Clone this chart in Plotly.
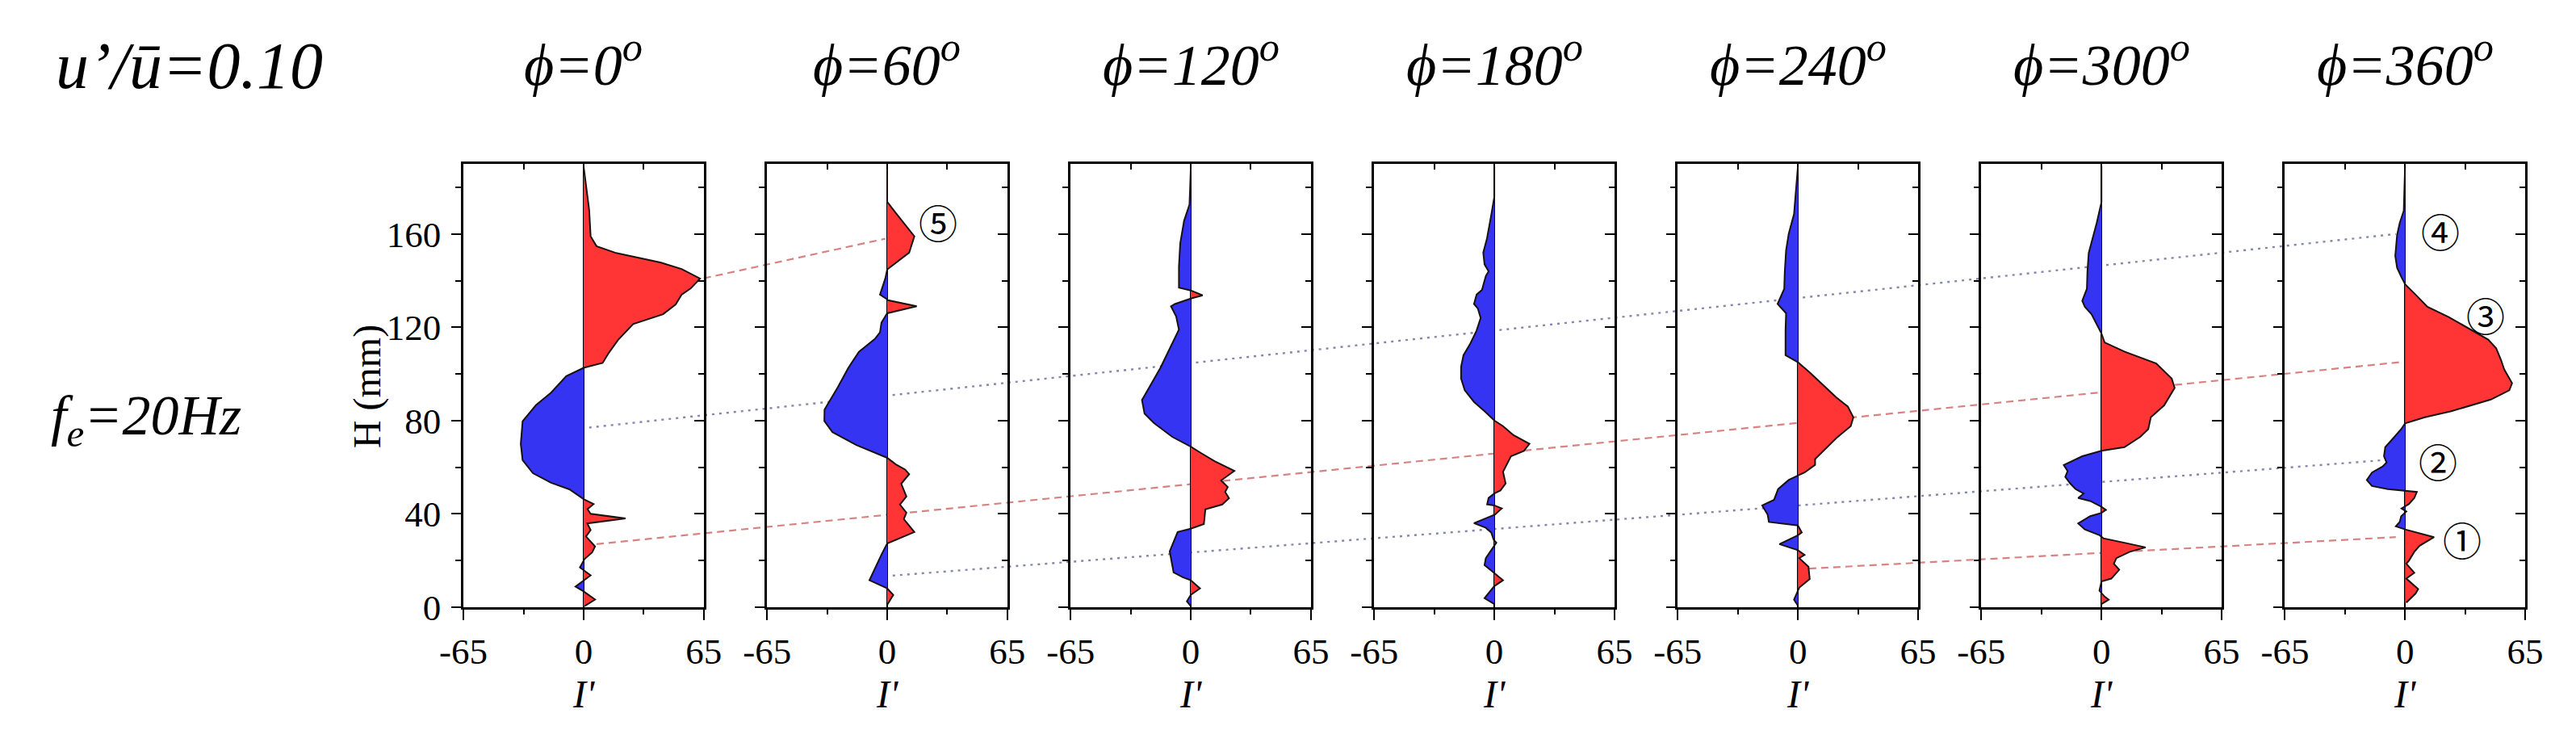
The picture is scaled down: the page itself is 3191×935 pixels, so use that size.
import plotly.graph_objects as go

# ---------------- data ----------------
PHI_LABELS = ["0", "60", "120", "180", "240", "300", "360"]

H_PHI0 = [189, 181.5, 170.4, 159, 154.8, 152, 147.8, 145, 140.9, 136.7, 134, 129.8, 125.6, 121.4,
          114.5, 109, 104.7, 102.6, 99, 92, 86.6, 79.7, 70, 63, 57.4, 53.3, 50.5, 46.3, 44.2, 42,
          40, 38, 35.9, 33, 30.3, 26, 23.4, 20.6, 17, 13.6, 8.8, 6.7, 3.2, 0.4]
I_PHI0 = [0, 1.3, 3, 3.8, 7, 17, 41.5, 53, 63, 58, 53, 49.8, 43, 26.8,
          18.6, 13.6, 10.3, 0, -9.4, -17.6, -25.8, -33, -34, -33, -27.4, -17.6, -7.7, 0, 5.4, 2.1,
          3.8, 22.7, 2, 3.8, 1.3, 6.2, 4.6, 0.5, -2, 3.8, -4.4, 0, 6.2, 0.5]

H_PHI60 = [188, 173.8, 169, 159, 152, 144.8, 141, 134, 132, 131.6, 129, 126, 122, 117.8, 115, 109.5,
           102.6, 94.3, 84.7, 79.8, 75, 69.5, 64, 61.2, 59, 57, 52.9, 47.4, 44, 40.5, 37.7, 32.2,
           27.3, 22.5, 11.5, 8, 5.2, 1]
I_PHI60 = [0, 0, 4.7, 14.7, 11.9, 0, -1, -3.9, 0, 0.4, 16, 0, -3.1, -3.9, -6.7, -15.3,
           -21, -26.7, -33.9, -34, -29.6, -16.7, 0, 4.7, 9.7, 11.9, 7.6, 10.4, 6.9, 10.4, 9, 14.7,
           0, -3.1, -9.6, 0, 3.3, 0]

H_PHI120 = [188, 172.6, 165.7, 156, 146, 137, 135.8, 133.7, 132.3, 130, 129, 124.7, 119, 111, 102.6,
            95.7, 88.8, 83, 79, 73, 68.8, 66, 62.6, 58.4, 54.3, 51.5, 49.4, 46.7, 44, 41.9, 35.6,
            33.6, 32.2, 23.9, 14.9, 12.8, 11.5, 8, 5.2, 2.5, 0.4]
I_PHI120 = [0, -0.7, -3.6, -5.7, -6.4, -6.4, 0, 6.4, 0, -8.6, -10.7, -7.9, -6.4, -11.4, -16.4,
            -21.4, -26.4, -25, -20, -10, 0, 5.7, 12.9, 23.6, 16.4, 20, 18.6, 20.7, 17, 7.9, 7.1,
            0, -7.1, -11.4, -9.3, -4.3, 0, 5, 0, -2.1, 0]

H_PHI180 = [189, 176, 168, 158, 152, 147, 144, 142, 136, 134, 130, 128, 124, 118.6, 113, 108, 103,
            98, 93, 88, 84, 80, 77.6, 73.7, 70, 67, 64.7, 61.5, 58, 53, 50, 48.7, 46.8, 44, 43.6,
            42.3, 39.7, 36, 34, 32, 28.8, 27.6, 25, 21, 18, 14.7, 11.5, 9, 3.8, 1.3]
I_PHI180 = [0, 0, -1.7, -4, -6, -5.3, -3.1, -4.6, -6.7, -9.6, -11, -8.9, -7.4, -9.6, -13, -16.7, -18,
            -18, -16, -11, -5.3, 0, 4.7, 10.4, 19, 16, 9, 6.9, 4.7, 6.1, 3.3, 0, -3.1, -3.9, 0,
            4, 0.4, -11, -4.6, -1.7, -0.3, 1.1, -1, -4.6, -5.3, 0, 4.7, 0, -5.3, 0]

H_PHI240 = [189, 177.6, 168.6, 160, 153, 144, 136.5, 130, 126, 118.6, 108, 105, 100.6, 90, 86, 81.4,
            77.6, 72.4, 67, 63.5, 61, 57.7, 56.4, 54.5, 50.6, 46, 43.6, 39.7, 36.5, 35, 32, 30.8,
            27, 25, 24.4, 22.4, 21, 17.3, 12, 8.3, 3.2, 0.6]
I_PHI240 = [0, -1, -2.1, -5, -6.4, -7.1, -7.4, -11, -6.4, -6.7, -6.7, 0, 6.4, 20.7, 27, 30,
            28.6, 20.7, 13.6, 9.3, 9.3, 3.6, 0, -5, -10.7, -12.9, -19.3, -16.4, -15.7, 0, 2.1, 0,
            -10, -2.1, 0, 3.6, 0.7, 5.7, 6.4, 0.7, -2.1, 0]

H_PHI300 = [189, 173.7, 164.7, 158, 151.9, 144, 136.5, 131.4, 128.8, 125.6, 121, 117.3, 113.5, 109.6,
            104.5, 98, 94, 86.5, 81.4, 76.3, 73, 68.6, 67, 64.7, 60.9, 58.3, 55.8, 53, 50.6, 48.7,
            46.8, 45.5, 43, 41.7, 40.4, 39, 35.9, 33.3, 30.8, 29.5, 27.6, 25.6, 23.7, 21, 18.6, 16,
            12.2, 11, 7, 4.5, 3.2, 1.3]
I_PHI300 = [0, 0, -2.6, -4.7, -6.9, -7.6, -7.9, -10.4, -9, -5.4, -2.6, 0, 1.7, 12.4,
            29.6, 38, 39.6, 33.9, 26.7, 25.3, 21, 12.4, 0, -10.4, -20.4, -18.3, -19.6, -16.9, -14, -9.7,
            -12.6, -6.1, 0, 2.4, 0, -6.1, -12.6, -9, -1, 1, 12.4, 23.9, 15.3, 8.1, 6.7, 9.6,
            5.3, 0, -1.1, 1.7, 3.9, 0]

H_PHI360 = [189, 170, 164.7, 159.6, 150.6, 145.5, 141.7, 138.5, 134, 128.8, 124.4, 119.2, 114.7, 111,
            105.8, 102, 96, 93, 89, 84, 81.4, 78.8, 76.3, 72.4, 68.6, 64.7, 62, 60.3, 57.7, 54.5,
            51.9, 50.6, 50, 49.4, 46.8, 44.2, 42.3, 41, 39, 36.5, 34.6, 33.3, 30, 26.3, 23.7, 19.9,
            18.6, 14.7, 12.2, 7.7, 5.8, 1.9]
I_PHI360 = [0, -0.7, -2.9, -4.3, -5.3, -4.3, -2.1, 0, 5.7, 12.1, 23.6, 35, 45, 49.3,
            52, 53.6, 57.9, 56.4, 46.4, 25, 10.7, 0, -2.1, -6.4, -10.7, -11.4, -10, -12.1, -17.9, -20.7,
            -17.9, -9.3, 0, 6.4, 5, 2.1, -1.9, 0.7, -2.1, -2.9, -5, 0, 15.7, 7.9, 5, 2.1,
            0.7, 5, 0.7, 7.1, 5.7, 0.7]

PROFILES_H = [H_PHI0, H_PHI60, H_PHI120, H_PHI180, H_PHI240, H_PHI300, H_PHI360]
PROFILES_I = [I_PHI0, I_PHI60, I_PHI120, I_PHI180, I_PHI240, I_PHI300, I_PHI360]

X_TICKS = [-65, 0, 65]
X_TICK_TEXT = ["-65", "0", "65"]
X_MINOR = [-32.5, 32.5]
Y_TICKS = [0, 40, 80, 120, 160]
Y_TICK_TEXT = ["0", "40", "80", "120", "160"]
Y_MINOR = [20, 60, 100, 140, 180]
X_RANGE = [-65, 65]
Y_RANGE = [0, 190]

# connecting lines between panels: (panel, I', H) -> (panel, I', H)
LINK_START_PANEL = [0, 0, 0, 1, 4]
LINK_START_I = [65, 3, 7, 3, 6]
LINK_START_H = [141, 77, 27, 13.5, 16.5]
LINK_END_PANEL = [1, 6, 6, 6, 6]
LINK_END_I = [-1, -5, -3, -12, -5]
LINK_END_H = [158, 160, 105, 63, 30]
LINK_KIND = ["red", "blue", "red", "blue", "red"]

MARK_TEXT = ["⑤", "④", "③", "②", "①"]
MARK_PANEL = [1, 6, 6, 6, 6]
MARK_I = [27.6, 19.3, 43.6, 17.9, 30.7]
MARK_H = [165.5, 161.5, 125.6, 62.8, 29.5]

# ---------------- layout constants (pixels) ----------------
FIG_W, FIG_H = 3191, 935
LEFT0, PITCH, PANEL_W = 553.3, 382.4, 302.7
BOX_TOP, BOX_BOTTOM = 209.0, 773.3
RED = "#FF3535"
BLUE = "#3434F2"
SERIF = "Liberation Serif"
N = len(PROFILES_H)


def px_x(p):
    return p / FIG_W


def px_y(p):
    return 1 - p / FIG_H


def split_sign(h, v):
    hs, pos, neg = [], [], []
    for j in range(len(h)):
        if j > 0 and v[j - 1] * v[j] < 0:
            t = v[j - 1] / (v[j - 1] - v[j])
            hs.append(h[j - 1] + t * (h[j] - h[j - 1]))
            pos.append(0)
            neg.append(0)
        hs.append(h[j])
        pos.append(max(v[j], 0))
        neg.append(min(v[j], 0))
    return hs, pos, neg


fig = go.Figure()
ydom = [px_y(BOX_BOTTOM), px_y(BOX_TOP)]

# overlay subplot (drawn first, below the panels) for the connecting lines
P_UNITS = (X_RANGE[1] - X_RANGE[0]) * PITCH / PANEL_W
gx_max = (N - 1) * P_UNITS + X_RANGE[1]
layout = dict(
    xaxis=dict(domain=[px_x(LEFT0), px_x(LEFT0 + (N - 1) * PITCH + PANEL_W)],
               range=[X_RANGE[0], gx_max], visible=False, anchor="y", fixedrange=True),
    yaxis=dict(domain=ydom, range=Y_RANGE, visible=False, anchor="x", fixedrange=True),
)
for k in range(len(LINK_KIND)):
    gx0 = LINK_START_PANEL[k] * P_UNITS + LINK_START_I[k]
    gx1 = LINK_END_PANEL[k] * P_UNITS + LINK_END_I[k]
    if LINK_KIND[k] == "red":
        ln = dict(color="rgba(205,100,100,0.8)", width=2.2, dash="9px,6px")
    else:
        ln = dict(color="rgba(105,105,150,0.8)", width=2.4, dash="3px,6px")
    fig.add_trace(go.Scatter(x=[gx0, gx1], y=[LINK_START_H[k], LINK_END_H[k]], mode="lines",
                             line=ln, xaxis="x", yaxis="y", showlegend=False, hoverinfo="skip"))

axis_font = dict(family=SERIF, size=45, color="black")
for k in range(N):
    n = k + 2
    m = k + 2 + N
    x0 = LEFT0 + k * PITCH
    xdom = [px_x(x0), px_x(x0 + PANEL_W)]
    hs, pos, neg = split_sign(PROFILES_H[k], PROFILES_I[k])
    xa, ya = f"x{n}", f"y{n}"
    fig.add_trace(go.Scatter(x=pos, y=hs, mode="lines", line=dict(width=0, color=RED),
                             fill="tozerox", fillcolor=RED, xaxis=xa, yaxis=ya,
                             showlegend=False, hoverinfo="skip"))
    fig.add_trace(go.Scatter(x=neg, y=hs, mode="lines", line=dict(width=0, color=BLUE),
                             fill="tozerox", fillcolor=BLUE, xaxis=xa, yaxis=ya,
                             showlegend=False, hoverinfo="skip"))
    fig.add_trace(go.Scatter(x=PROFILES_I[k], y=PROFILES_H[k], mode="lines",
                             line=dict(color="#1a1010", width=2), xaxis=xa, yaxis=ya,
                             showlegend=False, hoverinfo="skip"))
    # dummy trace for mirror-tick overlay axes
    fig.add_trace(go.Scatter(x=[None], y=[None], xaxis=f"x{m}", yaxis=f"y{m}",
                             showlegend=False, hoverinfo="skip"))

    layout[f"xaxis{n}"] = dict(
        domain=xdom, anchor=ya, range=X_RANGE, fixedrange=True,
        showline=True, linecolor="black", linewidth=2.6, mirror=True,
        showgrid=False, zeroline=True, zerolinecolor="black", zerolinewidth=2,
        ticks="outside", ticklen=13, tickwidth=2.4, tickcolor="black",
        tickvals=X_TICKS, ticktext=X_TICK_TEXT, tickfont=axis_font, ticklabelstandoff=0,
        minor=dict(tickvals=X_MINOR, ticks="outside", ticklen=6, tickwidth=2, tickcolor="black"),
    )
    layout[f"yaxis{n}"] = dict(
        domain=ydom, anchor=xa, range=Y_RANGE, fixedrange=True,
        showline=True, linecolor="black", linewidth=2.6, mirror=True,
        showgrid=False, zeroline=False,
        ticks="outside", ticklen=12, tickwidth=2.4, tickcolor="black",
        tickvals=Y_TICKS, ticktext=Y_TICK_TEXT, tickfont=axis_font,
        showticklabels=(k == 0), ticklabelstandoff=4,
        minor=dict(tickvals=Y_MINOR, ticks="outside", ticklen=7, tickwidth=2, tickcolor="black"),
    )
    layout[f"xaxis{m}"] = dict(
        overlaying=xa, side="top", anchor=ya, range=X_RANGE, fixedrange=True,
        showline=False, showgrid=False, zeroline=False, showticklabels=False,
        ticks="inside", tickvals=X_MINOR, ticklen=7, tickwidth=2, tickcolor="black",
    )
    layout[f"yaxis{m}"] = dict(
        overlaying=ya, side="right", anchor=xa, range=Y_RANGE, fixedrange=True,
        showline=False, showgrid=False, zeroline=False, showticklabels=False,
        ticks="inside", tickvals=Y_TICKS, ticklen=12, tickwidth=2.4, tickcolor="black",
        minor=dict(tickvals=Y_MINOR, ticks="inside", ticklen=7, tickwidth=2, tickcolor="black"),
    )

annotations = []
for k in range(N):
    cx = LEFT0 + k * PITCH + PANEL_W / 2
    annotations.append(dict(
        text=f"<i>ϕ={PHI_LABELS[k]}<sup>o</sup></i>", x=px_x(cx), y=px_y(78),
        xref="paper", yref="paper", xanchor="center", yanchor="middle", showarrow=False,
        font=dict(family=SERIF, size=72, color="black")))
    annotations.append(dict(
        text="<i>I'</i>", x=px_x(cx), y=px_y(884), xref="paper", yref="paper",
        xanchor="center", yanchor="middle", showarrow=False,
        font=dict(family=SERIF, size=48, color="black")))

for k in range(len(MARK_TEXT)):
    n = MARK_PANEL[k] + 2
    annotations.append(dict(
        text=MARK_TEXT[k], x=MARK_I[k], y=MARK_H[k], xref=f"x{n}", yref=f"y{n}",
        xanchor="center", yanchor="middle", showarrow=False,
        font=dict(family="Noto Sans CJK JP", size=48, color="black")))

annotations.append(dict(
    text="<i>u’/ū=0.10</i>", x=px_x(38), y=px_y(84), xref="paper", yref="paper",
    xanchor="left", yanchor="middle", showarrow=False,
    font=dict(family=SERIF, size=82, color="black")))
annotations.append(dict(
    text="<i>f<sub>e</sub>=20Hz</i>", x=px_x(32), y=px_y(535), xref="paper", yref="paper",
    xanchor="left", yanchor="middle", showarrow=False,
    font=dict(family=SERIF, size=70, color="black")))
annotations.append(dict(
    text="H (mm)", x=px_x(433), y=px_y(492), xref="paper", yref="paper",
    xanchor="center", yanchor="middle", textangle=-90, showarrow=False,
    font=dict(family=SERIF, size=48, color="black")))

fig.update_layout(
    width=FIG_W, height=FIG_H, margin=dict(l=0, r=0, t=0, b=0, pad=0),
    paper_bgcolor="white", plot_bgcolor="rgba(0,0,0,0)",
    showlegend=False, annotations=annotations, **layout)

fig.write_html("out.html", config={"displayModeBar": False},
               post_script="document.body.style.margin='0';document.body.style.overflow='hidden';")
